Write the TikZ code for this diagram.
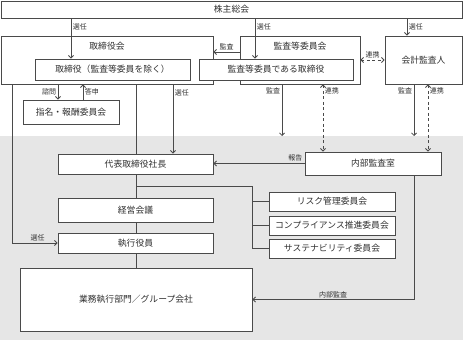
\documentclass[tikz,border=0pt]{standalone}
\usepackage{fontspec}
\newfontfamily\jpfont{Noto Sans CJK JP}
\usetikzlibrary{arrows.meta}
\definecolor{linegray}{HTML}{4A4A4A}
\definecolor{areagray}{HTML}{E6E6E6}
\definecolor{textgray}{HTML}{303030}
\tikzset{
  orgbox/.style={draw=linegray, fill=white, line width=0.9pt, inner sep=0pt, text=textgray, font=\jpfont\fontsize{8.8}{10}\selectfont},
  title/.style={inner sep=0pt, text=textgray, font=\jpfont\fontsize{8.8}{10}\selectfont},
  lbl/.style={inner sep=1.5pt, text=textgray, font=\jpfont\fontsize{7}{8}\selectfont},
  link/.style={draw=linegray, line width=0.8pt},
  arr/.style={link, -{Straight Barb[length=2.5pt,width=5pt]}},
  dualarr/.style={link, dash pattern=on 3pt off 2.5pt, {Straight Barb[length=2.5pt,width=5pt]}-{Straight Barb[length=2.5pt,width=5pt]}},
}
\begin{document}
\begin{tikzpicture}[x=1pt,y=-1pt]
\useasboundingbox (0,0) rectangle (463,340);
% 執行側の背景
\node[fill=areagray, inner sep=0pt, minimum width=463pt, minimum height=204pt, anchor=north west] (execarea) at (0,136) {};
% 監督側
\node[orgbox, minimum width=461pt, minimum height=17pt] (kabunushi) at (231.5,9.5) {株主総会};
\node[orgbox, minimum width=212pt, minimum height=48pt] (torikai) at (107,60) {};
\node[title] (torikaititle) at (107,46) {取締役会};
\node[orgbox, minimum width=120pt, minimum height=48pt] (kansaiinkai) at (300,60) {};
\node[title] (kansaiinkaititle) at (300,46) {監査等委員会};
\node[orgbox, minimum width=77pt, minimum height=48pt] (kaikei) at (423.5,60) {会計監査人};
\node[orgbox, minimum width=155pt, minimum height=21pt] (torishimari) at (112.5,69.5) {取締役（監査等委員を除く）};
\node[orgbox, minimum width=154pt, minimum height=21pt] (kansatori) at (276,69.5) {監査等委員である取締役};
\node[orgbox, minimum width=96pt, minimum height=24pt] (shimei) at (71,112) {指名・報酬委員会};
% 執行側
\node[orgbox, minimum width=155pt, minimum height=20pt] (daihyo) at (135.5,164) {代表取締役社長};
\node[orgbox, minimum width=136pt, minimum height=23pt] (naibu) at (373,163.5) {内部監査室};
\node[orgbox, minimum width=155pt, minimum height=24pt] (keiei) at (135.5,210) {経営会議};
\node[orgbox, minimum width=155pt, minimum height=20pt] (shikko) at (135.5,243) {執行役員};
\node[orgbox, minimum width=232pt, minimum height=63pt] (gyomu) at (136,299.5) {業務執行部門／グループ会社};
\node[orgbox, minimum width=126pt, minimum height=19pt] (risk) at (332,201.5) {リスク管理委員会};
\node[orgbox, minimum width=126pt, minimum height=19pt] (compla) at (332,225.5) {コンプライアンス推進委員会};
\node[orgbox, minimum width=126pt, minimum height=19pt] (susta) at (332,248.5) {サステナビリティ委員会};
% 選任・監査・連携
\draw[arr] (kabunushi.south -| 71,0) -- node[lbl, right, pos=0.2] {選任} (torishimari.north -| 71,0);
\draw[arr] (kabunushi.south -| 255,0) -- node[lbl, right, pos=0.2] {選任} (kansatori.north -| 255,0);
\draw[arr] (kabunushi.south -| 407,0) -- node[lbl, right] {選任} (kaikei.north -| 407,0);
\draw[arr] (kansaiinkai.west |- 0,52) -- node[lbl, above] {監査} (torikai.east |- 0,52);
\draw[dualarr] (kansaiinkai.east) -- node[lbl, above] {連携} (kaikei.west);
\draw[arr] (torikai.south -| 12,0) |- node[lbl, above, pos=0.78] {選任} (shikko.west);
\draw[arr] (torikai.south -| 58,0) -- node[lbl, left] {諮問} (shimei.north -| 58,0);
\draw[arr] (shimei.north -| 83,0) -- node[lbl, right] {答申} (torikai.south -| 83,0);
\draw[link] (torikai.south -| 136,0) -- (daihyo.north -| 136,0);
\draw[arr] (torikai.south -| 173,0) -- node[lbl, right, pos=0.12] {選任} (daihyo.north -| 173,0);
\draw[arr] (kansaiinkai.south -| 282,0) -- node[lbl, left, pos=0.13] {監査} (execarea.north -| 282,0);
\draw[dualarr] (kansaiinkai.south -| 323,0) -- node[lbl, right, pos=0.1] {連携} (naibu.north -| 323,0);
\draw[arr] (kaikei.south -| 414,0) -- node[lbl, left, pos=0.13] {監査} (execarea.north -| 414,0);
\draw[dualarr] (kaikei.south -| 428,0) -- node[lbl, right, pos=0.1] {連携} (naibu.north -| 428,0);
\draw[arr] (naibu.west) -- node[lbl, above, pos=0.1] {報告} (daihyo.east |- naibu.west);
% 執行ライン
\draw[link] (daihyo.south -| 136,0) -- (keiei.north -| 136,0);
\coordinate (iinkaibranch) at (252,186);
\draw[link] (iinkaibranch -| 136,0) -- (iinkaibranch) |- (susta.west);
\draw[link] (iinkaibranch |- risk.west) -- (risk.west);
\draw[link] (iinkaibranch |- compla.west) -- (compla.west);
\draw[link] (keiei.south -| 136,0) -- (shikko.north -| 136,0);
\draw[link] (shikko.south -| 136,0) -- (gyomu.north -| 136,0);
\draw[arr] (naibu.south -| 414,0) |- node[lbl, above, pos=0.75] {内部監査} (gyomu.east);
\end{tikzpicture}
\end{document}
